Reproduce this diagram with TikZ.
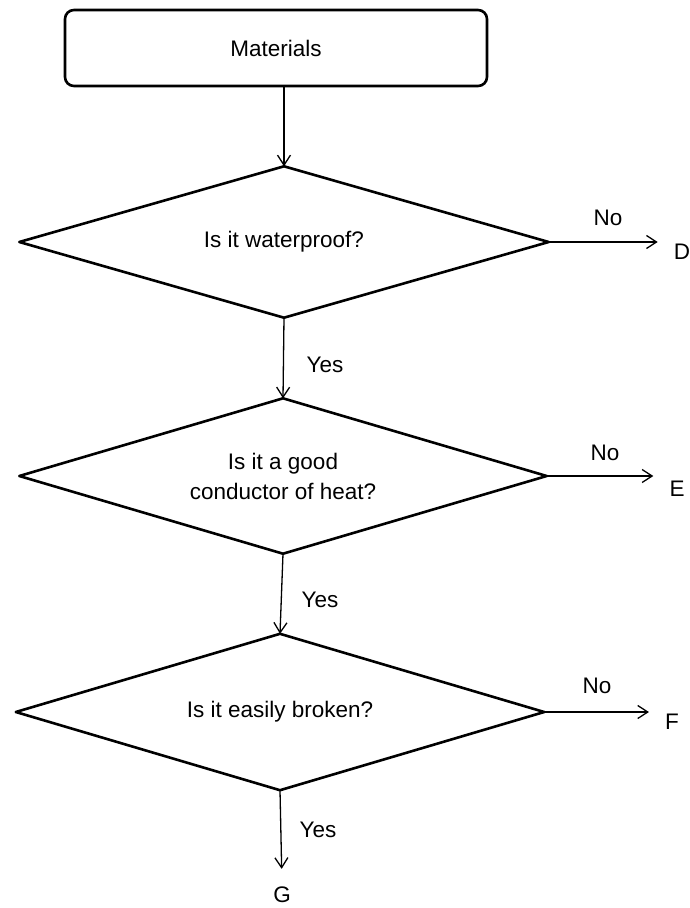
\documentclass[tikz,border=0pt]{standalone}
\usepackage{fontspec}
\setmainfont{Liberation Sans}
\usetikzlibrary{arrows.meta}

\begin{document}
\begin{tikzpicture}[x=1pt,y=-1pt,
		font=\fontsize{22.5}{30}\selectfont,
		startbox/.style={draw,line width=2.6pt,rounded corners=9pt,minimum width=422pt,minimum height=76pt,inner sep=0pt},
		question/.style 2 args={minimum width=#1pt,minimum height=#2pt,inner sep=0pt,align=center},
		outline/.style={line width=2.6pt,line join=round},
		outcome/.style={inner sep=2pt},
		flow/.style={line width=1.3pt,-{Straight Barb[length=10pt,width=13pt,line width=1.3pt]}},
		sideflow/.style={flow,shorten >=14pt}]
		%%%%% START %%%%%
		\useasboundingbox (0,0) rectangle (690,908);
		
		\node[startbox] (materials) at (276,48) {Materials};
		
		\node[question={529}{151}] (waterproof) at (284,242) {Is it waterproof?};
		\node[question={527}{155}] (conductor) at (283,476) {Is it a good\\conductor of heat?};
		\node[question={528}{156}] (broken) at (280,712) {Is it easily broken?};
		\foreach \q in {waterproof,conductor,broken}
			\draw[outline] (\q.west) -- (\q.north) -- (\q.east) -- (\q.south) -- cycle;
		
		\node[outcome] (D) at (682,252) {D};
		\node[outcome] (E) at (677,489) {E};
		\node[outcome] (F) at (672,722) {F};
		\node[outcome] (G) at (282,895) {G};
		
		\node (nowater) at (608,218) {No};
		\node (noheat) at (605,453) {No};
		\node (nobroken) at (597,686) {No};
		\node (yeswater) at (325,365) {Yes};
		\node (yesheat) at (320,600) {Yes};
		\node (yesbroken) at (318,830) {Yes};
		
		\draw[flow] (materials.south -| waterproof.north) -- (waterproof.north);
		\draw[flow] (waterproof.south) -- (conductor.north);
		\draw[flow] (conductor.south) -- (broken.north);
		\draw[flow,shorten >=16pt] (broken.south) -- (G.north);
		
		\draw[sideflow] (waterproof.east) -- (waterproof.east -| D.west);
		\draw[sideflow] (conductor.east) -- (conductor.east -| E.west);
		\draw[sideflow] (broken.east) -- (broken.east -| F.west);
		%%%%% END %%%%%
\end{tikzpicture}
\end{document}
